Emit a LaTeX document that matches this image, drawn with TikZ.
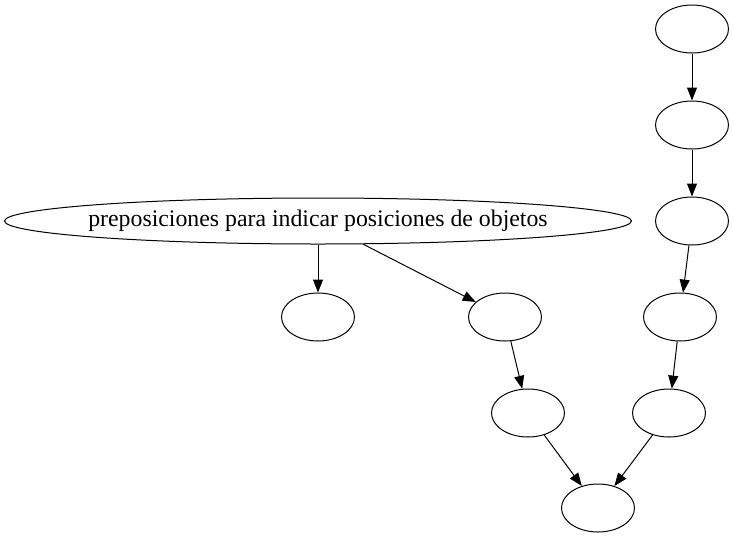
\documentclass[tikz,border=0pt]{standalone}
\usepackage{fontspec}
\setmainfont{Liberation Serif}
\usetikzlibrary{arrows.meta,shapes.geometric}

\begin{document}
\begin{tikzpicture}[
  x=1pt, y=-1pt,
  >={Triangle[length=13pt,width=10pt]},
  every node/.style={font=\fontsize{23.8}{28}\selectfont},
  blob/.style={ellipse, draw, line width=1pt, inner sep=0pt, minimum width=73pt, minimum height=48pt},
  wide/.style={blob, minimum width=627pt, minimum height=46pt},
  link/.style={->, line width=1pt}
]
\useasboundingbox (0,0) rectangle (734,539);
\node[wide] (prep) at (318,221) {\makebox[0pt]{preposiciones para indicar posiciones de objetos}};
\node[blob] (a) at (318,317) {};
\node[blob] (b) at (505,317) {};
\node[blob] (c) at (528,413) {};
\node[blob] (d) at (598,508) {};
\node[blob] (e1) at (692,29) {};
\node[blob] (e2) at (692,125) {};
\node[blob] (e3) at (692,221) {};
\node[blob] (e4) at (680,317) {};
\node[blob] (e5) at (669,413) {};
\draw[link] (prep) -- (a);
\draw[link] (prep) -- (b);
\draw[link] (b) -- (c);
\draw[link] (c) -- (d);
\draw[link] (e1) -- (e2);
\draw[link] (e2) -- (e3);
\draw[link] (e3) -- (e4);
\draw[link] (e4) -- (e5);
\draw[link] (e5) -- (d);
\end{tikzpicture}
\end{document}
